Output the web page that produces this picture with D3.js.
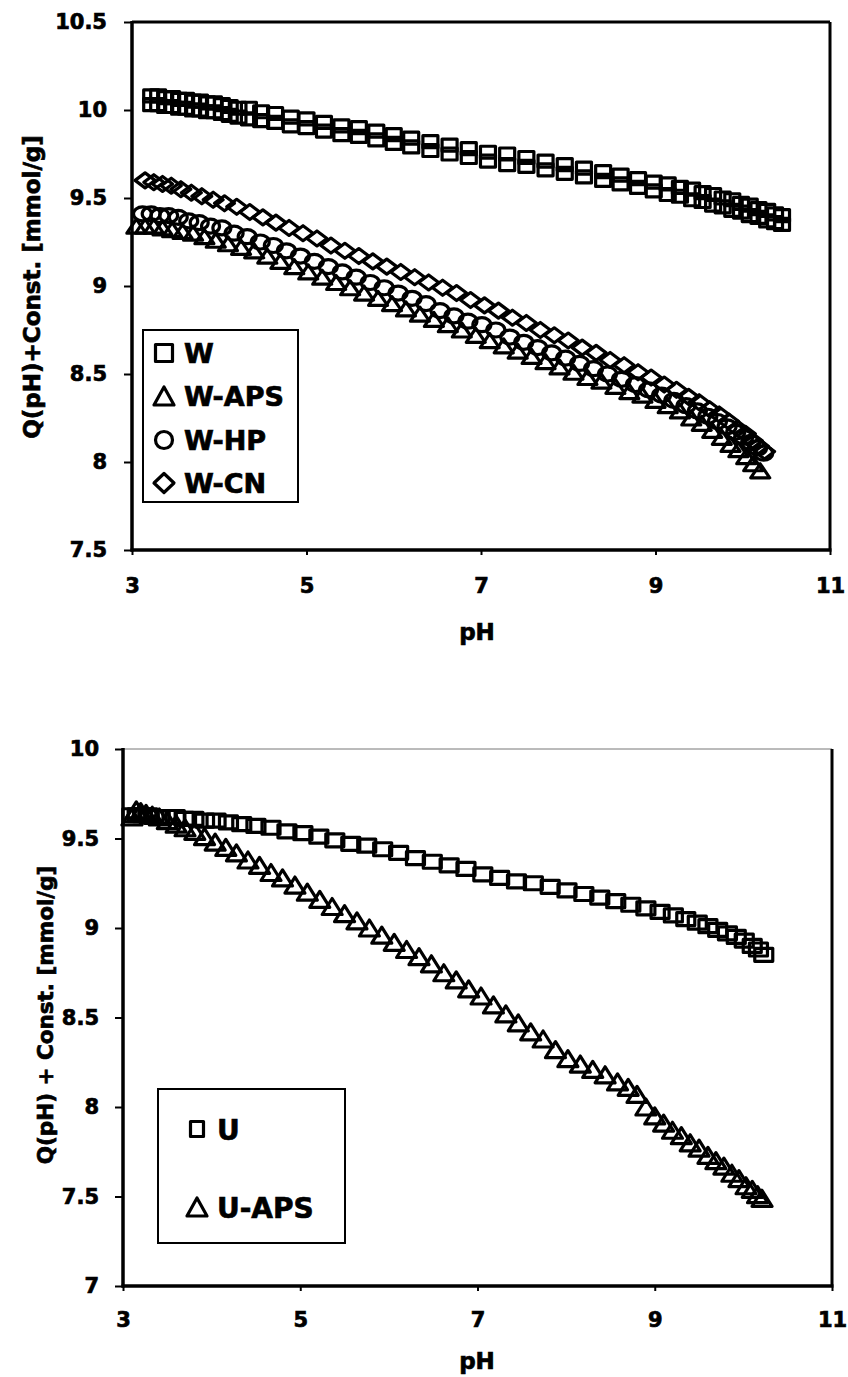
<!DOCTYPE html>
<html><head><meta charset="utf-8">
<script src="https://cdn.jsdelivr.net/npm/d3@7"></script>
<style>
html,body{margin:0;padding:0;background:#fff;}
svg{display:block;}
text{font-family:"DejaVu Sans",sans-serif;font-weight:bold;fill:#000;stroke:#000;stroke-width:0.7px;}
</style></head>
<body>
<svg id="chart" width="848" height="1377"></svg>
<script>
// ---------------- DATA ----------------
const xTicks = [3, 5, 7, 9, 11];
const yTicksTop = [7.5, 8, 8.5, 9, 9.5, 10, 10.5];
const yTicksBottom = [7, 7.5, 8, 8.5, 9, 9.5, 10];
const xLabel = "pH";
const yLabelTop = "Q(pH)+Const. [mmol/g]";
const yLabelBottom = "Q(pH) + Const. [mmol/g]";
const legendTop = ["W", "W-APS", "W-HP", "W-CN"];
const legendBottom = ["U", "U-APS"];

// W (two overlapping runs)
const phW = [3.22,3.3,3.38,3.46,3.54,3.62,3.7,3.78,3.86,3.94,4.03,4.12,4.22,4.34,4.48,4.64,4.82,5.0,5.2,5.4,5.6,5.8,6.0,6.2,6.42,6.64,6.86,7.08,7.3,7.52,7.74,7.96,8.18,8.4,8.6,8.8,8.98,9.14,9.28,9.42,9.54,9.66,9.77,9.88,9.98,10.08,10.18,10.28,10.37,10.45];
const qW1 = [10.08,10.08,10.07,10.07,10.06,10.06,10.05,10.05,10.04,10.04,10.03,10.02,10.01,10.01,9.99,9.98,9.96,9.95,9.93,9.91,9.90,9.88,9.86,9.84,9.82,9.80,9.78,9.76,9.75,9.73,9.71,9.69,9.67,9.65,9.63,9.61,9.59,9.58,9.56,9.55,9.53,9.52,9.50,9.49,9.47,9.46,9.44,9.43,9.41,9.40];
const qW2 = [10.03,10.03,10.02,10.02,10.01,10.01,10.00,10.00,9.99,9.99,9.98,9.97,9.96,9.95,9.94,9.93,9.91,9.90,9.88,9.86,9.85,9.83,9.81,9.79,9.77,9.75,9.73,9.71,9.69,9.68,9.66,9.64,9.62,9.60,9.58,9.56,9.54,9.52,9.51,9.49,9.48,9.46,9.45,9.43,9.42,9.40,9.39,9.37,9.36,9.35];

// W-APS (triangles)
const phWAPS = [3.05,3.15,3.25,3.35,3.46,3.58,3.7,3.83,3.96,4.1,4.25,4.4,4.55,4.7,4.86,5.02,5.18,5.34,5.5,5.66,5.82,5.98,6.14,6.3,6.46,6.62,6.78,6.94,7.1,7.26,7.42,7.58,7.74,7.9,8.06,8.22,8.38,8.54,8.7,8.85,9.0,9.14,9.28,9.41,9.53,9.65,9.76,9.86,9.95,10.04,10.12,10.2];
const qWAPS = [9.34,9.34,9.34,9.33,9.32,9.31,9.30,9.28,9.26,9.24,9.22,9.20,9.17,9.14,9.11,9.08,9.05,9.02,8.99,8.96,8.93,8.90,8.87,8.84,8.81,8.78,8.75,8.72,8.69,8.66,8.63,8.60,8.57,8.54,8.51,8.48,8.46,8.43,8.40,8.38,8.35,8.32,8.29,8.25,8.22,8.18,8.14,8.10,8.07,8.03,7.99,7.95];

// W-HP (circles)
const phWHP = [3.12,3.22,3.32,3.42,3.53,3.65,3.77,3.9,4.03,4.17,4.32,4.47,4.62,4.77,4.93,5.09,5.25,5.41,5.57,5.73,5.89,6.05,6.21,6.37,6.53,6.69,6.85,7.01,7.17,7.33,7.49,7.65,7.81,7.97,8.13,8.29,8.45,8.61,8.77,8.92,9.07,9.21,9.35,9.48,9.6,9.71,9.82,9.92,10.01,10.09,10.17,10.24];
const qWHP = [9.41,9.41,9.40,9.40,9.39,9.37,9.36,9.34,9.33,9.30,9.28,9.25,9.23,9.20,9.17,9.14,9.11,9.08,9.05,9.02,8.99,8.96,8.93,8.90,8.86,8.83,8.80,8.78,8.75,8.71,8.68,8.65,8.62,8.59,8.56,8.53,8.50,8.47,8.44,8.41,8.38,8.35,8.32,8.29,8.26,8.23,8.20,8.17,8.14,8.11,8.08,8.05];

// W-CN (diamonds)
const phWCN = [3.15,3.25,3.35,3.45,3.56,3.68,3.8,3.93,4.06,4.2,4.35,4.5,4.65,4.8,4.96,5.12,5.28,5.44,5.6,5.76,5.92,6.08,6.24,6.4,6.56,6.72,6.88,7.04,7.2,7.36,7.52,7.68,7.84,8.0,8.16,8.32,8.48,8.64,8.8,8.95,9.1,9.24,9.38,9.5,9.62,9.73,9.84,9.94,10.03,10.11,10.18,10.25];
const qWCN = [9.60,9.59,9.58,9.57,9.55,9.53,9.51,9.49,9.47,9.45,9.42,9.39,9.36,9.33,9.30,9.27,9.23,9.20,9.17,9.14,9.11,9.08,9.05,9.02,8.99,8.96,8.92,8.89,8.86,8.82,8.79,8.75,8.72,8.69,8.65,8.62,8.58,8.55,8.51,8.48,8.44,8.41,8.37,8.34,8.30,8.27,8.23,8.19,8.16,8.12,8.09,8.06];

// U (squares)
const phU = [3.1,3.16,3.22,3.28,3.35,3.42,3.5,3.59,3.69,3.8,3.92,4.05,4.19,4.34,4.5,4.67,4.85,5.03,5.21,5.39,5.57,5.75,5.93,6.11,6.3,6.49,6.68,6.87,7.06,7.25,7.44,7.63,7.82,8.01,8.2,8.38,8.56,8.73,8.9,9.06,9.21,9.35,9.48,9.6,9.71,9.82,9.92,10.01,10.1,10.17,10.23];
const qU = [9.63,9.63,9.63,9.63,9.62,9.62,9.62,9.62,9.61,9.61,9.60,9.60,9.59,9.58,9.57,9.56,9.54,9.53,9.51,9.49,9.47,9.46,9.44,9.42,9.39,9.37,9.35,9.33,9.30,9.28,9.26,9.25,9.23,9.21,9.19,9.17,9.15,9.13,9.11,9.09,9.07,9.05,9.03,9.01,8.99,8.97,8.95,8.93,8.90,8.88,8.85];

// U-APS (triangles)
const phUAPS = [3.1,3.15,3.2,3.26,3.33,3.41,3.5,3.6,3.7,3.81,3.92,4.04,4.16,4.28,4.41,4.54,4.67,4.8,4.94,5.08,5.22,5.36,5.5,5.64,5.78,5.92,6.06,6.2,6.34,6.48,6.62,6.76,6.9,7.04,7.18,7.32,7.46,7.6,7.74,7.88,8.02,8.16,8.3,8.44,8.58,8.7,8.8,8.9,9.0,9.1,9.2,9.3,9.4,9.5,9.6,9.69,9.78,9.87,9.95,10.03,10.1,10.16,10.21];
const qUAPS = [9.62,9.66,9.65,9.64,9.63,9.62,9.60,9.58,9.56,9.54,9.51,9.48,9.45,9.42,9.38,9.35,9.31,9.28,9.24,9.20,9.16,9.12,9.08,9.04,9.00,8.96,8.92,8.88,8.84,8.80,8.75,8.71,8.66,8.62,8.57,8.52,8.47,8.42,8.38,8.32,8.27,8.24,8.21,8.18,8.14,8.11,8.07,8.00,7.95,7.91,7.87,7.84,7.80,7.77,7.73,7.70,7.67,7.63,7.60,7.56,7.54,7.51,7.49];

// ---------------- DRAWING ----------------
const svg = d3.select("#chart");

function markerPath(shape, w, h) {
  const a = w / 2, b = h / 2;
  if (shape === "square") return `M${-a},${-b}H${a}V${b}H${-a}Z`;
  if (shape === "triangle") return `M0,${-b}L${a},${b}L${-a},${b}Z`;
  if (shape === "diamond") return `M0,${-b}L${a},0L0,${b}L${-a},0Z`;
  return `M${-a},0A${a},${b} 0 1,0 ${a},0A${a},${b} 0 1,0 ${-a},0Z`;
}

function pairs(xs, ys) { return xs.map((x, i) => [x, ys[i]]); }

function panel(cfg) {
  const g = svg.append("g");
  const x = d3.scaleLinear().domain([3, 11]).range(cfg.xr);
  const y = d3.scaleLinear().domain(cfg.yd).range(cfg.yr);

  const ax = g.append("g").attr("transform", `translate(0,${cfg.yr[0]})`)
    .call(d3.axisBottom(x).tickValues(xTicks).tickFormat(d3.format("d"))
      .tickSize(5).tickSizeOuter(0).tickPadding(cfg.xPad));
  ax.select(".domain").remove();
  ax.selectAll(".tick line").attr("stroke", "#000").attr("stroke-width", 2);
  ax.selectAll(".tick text").attr("font-size", 21).attr("dy", "0.71em")
    .style("font-family", "DejaVu Sans").style("font-weight", "bold");

  const ay = g.append("g").attr("transform", `translate(${cfg.xr[0]},0)`)
    .call(d3.axisLeft(y).tickValues(cfg.yTicks).tickFormat(d => String(d))
      .tickSize(8).tickSizeOuter(0).tickPadding(cfg.yPad));
  ay.select(".domain").remove();
  ay.selectAll(".tick line").attr("stroke", "#000").attr("stroke-width", 2);
  ay.selectAll(".tick text").attr("font-size", 21)
    .style("font-family", "DejaVu Sans").style("font-weight", "bold");

  const [x0, x1] = cfg.xr, [y0, y1] = cfg.yr;
  g.append("line").attr("x1", x0).attr("x2", x1).attr("y1", y1).attr("y2", y1)
    .attr("stroke", cfg.topColor).attr("stroke-width", cfg.topWidth);
  g.append("line").attr("x1", x1).attr("x2", x1).attr("y1", y1).attr("y2", y0)
    .attr("stroke", "#000").attr("stroke-width", 3);
  g.append("line").attr("x1", x0).attr("x2", x0).attr("y1", y1 - 1).attr("y2", y0 + 1.5)
    .attr("stroke", "#000").attr("stroke-width", 3.5);
  g.append("line").attr("x1", x0 - 1.5).attr("x2", x1 + 1.5).attr("y1", y0).attr("y2", y0)
    .attr("stroke", "#000").attr("stroke-width", 3.5);

  cfg.series.forEach(s => {
    const sg = g.append("g");
    sg.selectAll("path").data(pairs(s.x, s.y)).join("path")
      .attr("transform", d => `translate(${x(d[0])},${y(d[1])})`)
      .attr("d", markerPath(s.shape, s.w, s.h))
      .attr("fill", "none").attr("stroke", "#000")
      .attr("stroke-width", s.sw).attr("stroke-linejoin", "round");
  });

  g.append("text").attr("x", cfg.xTitle[0]).attr("y", cfg.xTitle[1])
    .attr("text-anchor", "middle").attr("font-size", 23).text(xLabel);
  g.append("text").attr("transform", `translate(${cfg.yTitle[0]},${cfg.yTitle[1]}) rotate(-90)`)
    .attr("text-anchor", "middle").attr("font-size", cfg.yTitleSize).text(cfg.yLabel);

  const L = cfg.legend;
  g.append("rect").attr("x", L.box[0]).attr("y", L.box[1])
    .attr("width", L.box[2] - L.box[0]).attr("height", L.box[3] - L.box[1])
    .attr("fill", "#fff").attr("stroke", "#000").attr("stroke-width", 2);
  L.items.forEach((it, i) => {
    g.append("path").attr("transform", `translate(${L.mx},${L.ys[i]})`)
      .attr("d", markerPath(it.shape, it.w, it.h))
      .attr("fill", "none").attr("stroke", "#000").attr("stroke-width", 3.2)
      .attr("stroke-linejoin", "round");
    g.append("text").attr("x", L.tx).attr("y", L.ys[i] + L.baseOff)
      .attr("font-size", L.fs).text(it.label);
  });
}

panel({
  xr: [132, 830], yd: [7.5, 10.5], yr: [550, 22], yTicks: yTicksTop,
  xPad: 23, yPad: 17, topColor: "#000", topWidth: 3,
  xTitle: [477, 640], yTitle: [40, 287], yTitleSize: 23, yLabel: yLabelTop,
  series: [
    { x: phW, y: qW1, shape: "square", w: 15, h: 12, sw: 3.2 },
    { x: phW, y: qW2, shape: "square", w: 15, h: 12, sw: 3.2 },
    { x: phWAPS, y: qWAPS, shape: "triangle", w: 19, h: 14, sw: 3.2 },
    { x: phWHP, y: qWHP, shape: "circle", w: 18, h: 14, sw: 3.2 },
    { x: phWCN, y: qWCN, shape: "diamond", w: 20, h: 15, sw: 3.2 }
  ],
  legend: {
    box: [143, 330, 298, 502], mx: 164, tx: 184, ys: [353, 396, 440, 483], baseOff: 10, fs: 27,
    items: [
      { label: legendTop[0], shape: "square", w: 17, h: 17 },
      { label: legendTop[1], shape: "triangle", w: 20, h: 18 },
      { label: legendTop[2], shape: "circle", w: 17, h: 17 },
      { label: legendTop[3], shape: "diamond", w: 20, h: 19 }
    ]
  }
});

panel({
  xr: [123, 832], yd: [7, 10], yr: [1286, 749], yTicks: yTicksBottom,
  xPad: 21, yPad: 16, topColor: "#777", topWidth: 1,
  xTitle: [477, 1369], yTitle: [53, 1015], yTitleSize: 21.5, yLabel: yLabelBottom,
  series: [
    { x: phU, y: qU, shape: "square", w: 18, h: 13, sw: 3.2 },
    { x: phUAPS, y: qUAPS, shape: "triangle", w: 20, h: 16, sw: 3.2 }
  ],
  legend: {
    box: [158, 1089, 345, 1243], mx: 197, tx: 217, ys: [1129, 1207], baseOff: 11, fs: 28,
    items: [
      { label: legendBottom[0], shape: "square", w: 13, h: 15 },
      { label: legendBottom[1], shape: "triangle", w: 20, h: 18 }
    ]
  }
});
</script>
</body></html>
